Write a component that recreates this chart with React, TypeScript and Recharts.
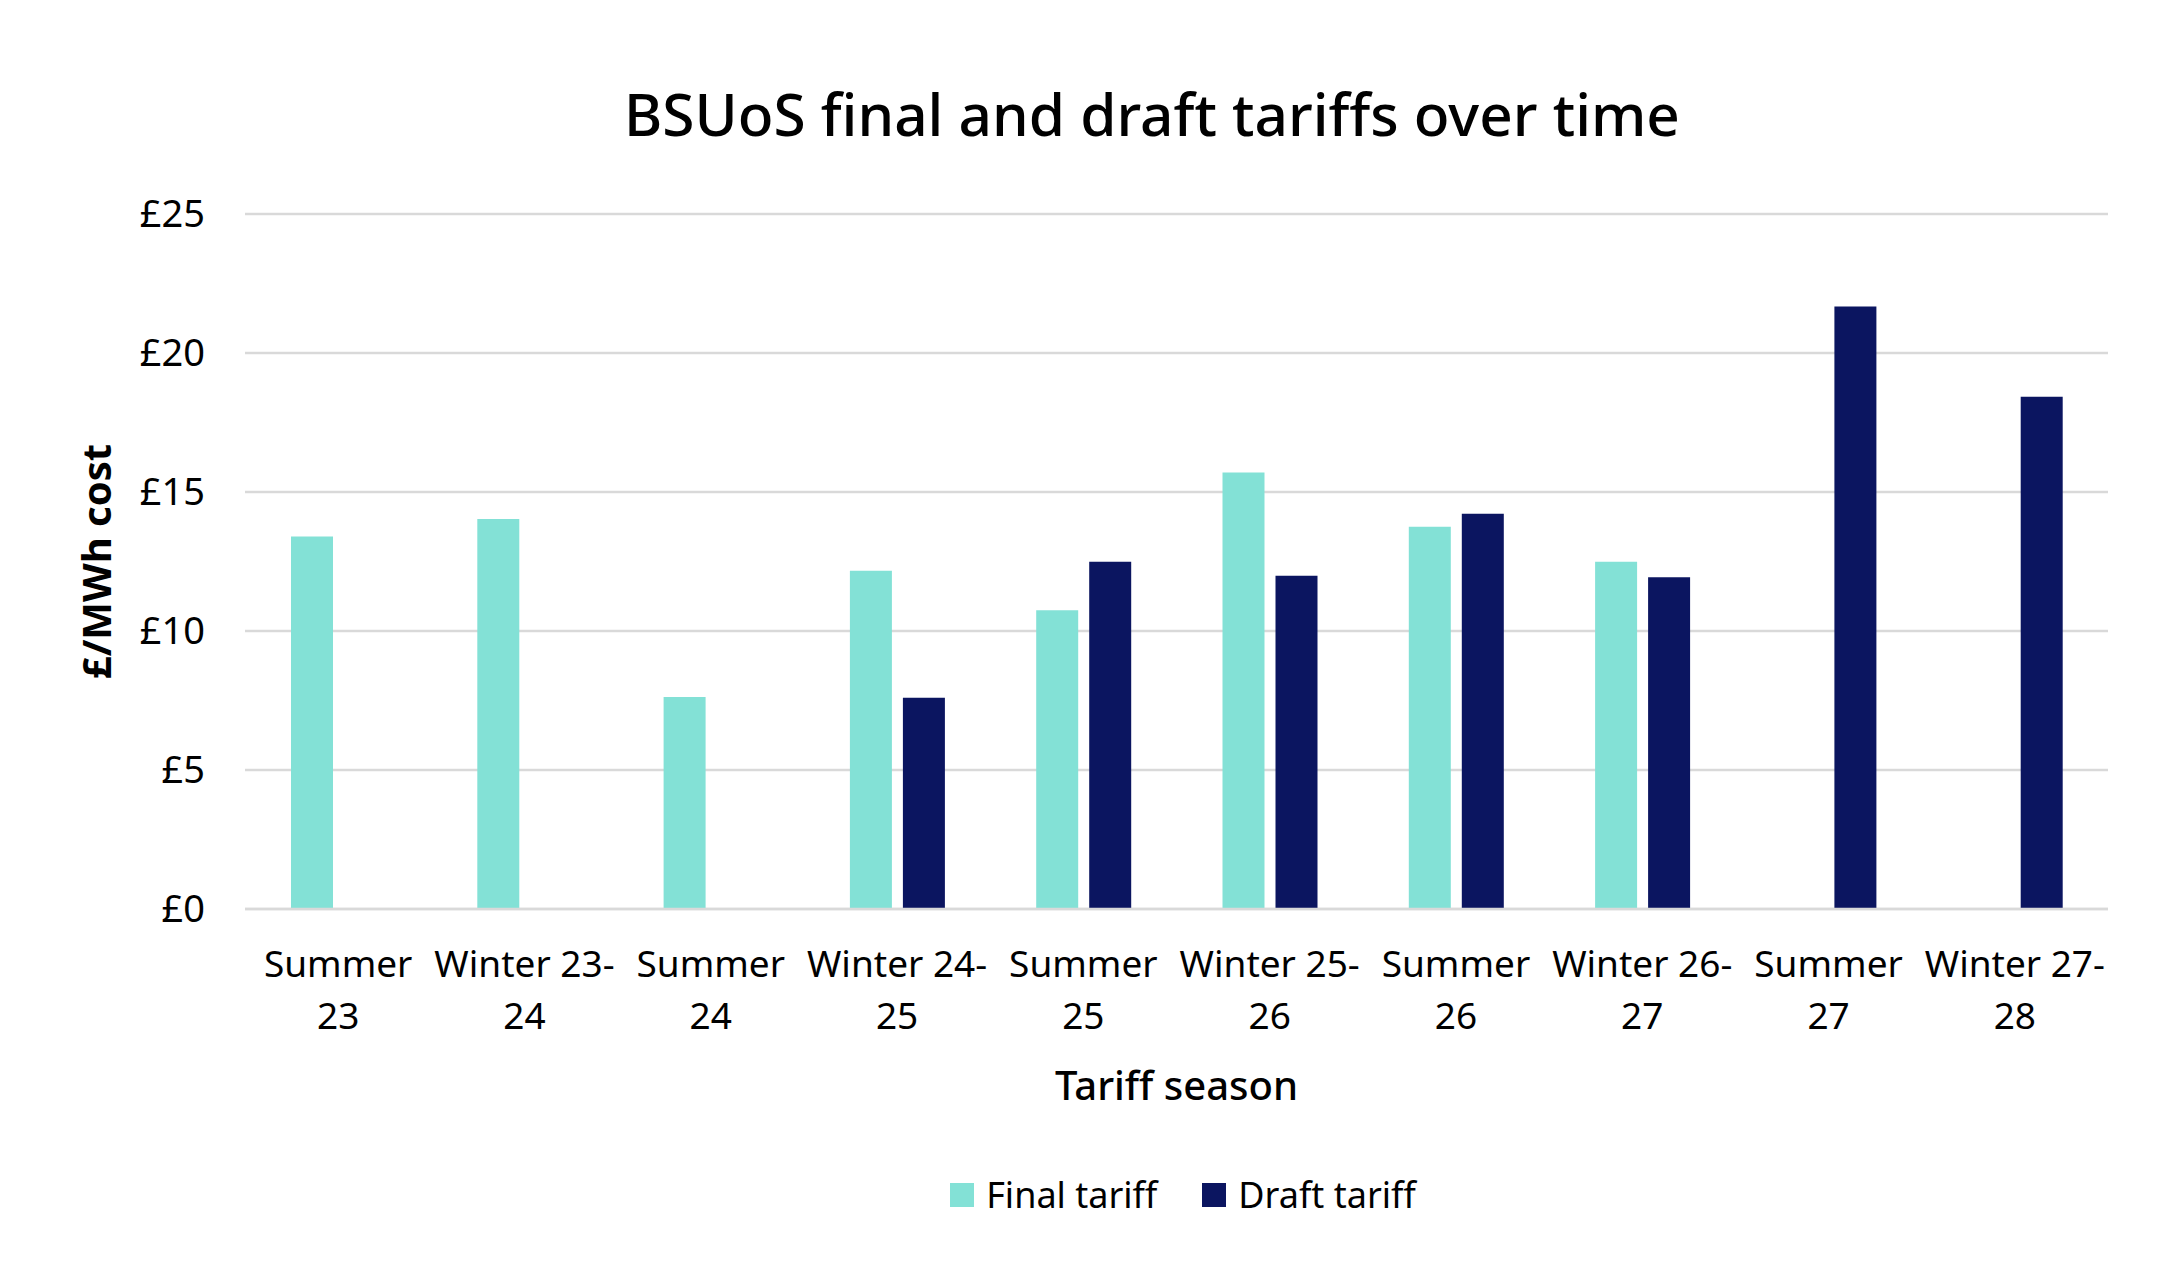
import { BarChart, Bar, XAxis, YAxis, CartesianGrid, Legend, Label } from 'recharts'

const SEASONS = [
  'Summer 23',
  'Winter 23-24',
  'Summer 24',
  'Winter 24-25',
  'Summer 25',
  'Winter 25-26',
  'Summer 26',
  'Winter 26-27',
  'Summer 27',
  'Winter 27-28',
]
const FINAL_TARIFF = [13.4, 14.03, 7.63, 12.17, 10.75, 15.7, 13.75, 12.49, null, null]
const DRAFT_TARIFF = [null, null, null, 7.6, 12.49, 11.99, 14.22, 11.93, 21.67, 18.43]
const Y_TICKS = [0, 5, 10, 15, 20, 25]
const SERIES_NAMES = ['Final tariff', 'Draft tariff']

const FONT = '"Noto Sans", sans-serif'
const TEAL = '#83E1D6'
const NAVY = '#0B1560'

const data = SEASONS.map((season, i) => ({
  season,
  final: FINAL_TARIFF[i],
  draft: DRAFT_TARIFF[i],
}))

// "Summer 23" -> ["Summer", "23"], "Winter 23-24" -> ["Winter 23-", "24"]
function splitSeason(label: string) {
  const m = label.match(/^(.*-)(\d+)$/)
  if (m) return [m[1], m[2]]
  const idx = label.lastIndexOf(' ')
  return [label.slice(0, idx), label.slice(idx + 1)]
}

function SeasonTick({ x, y, payload }: any) {
  const lines = splitSeason(payload.value)
  return (
    <g transform={`translate(${x},${y})`}>
      {lines.map((line, i) => (
        <text
          key={i}
          x={0}
          y={68 + i * 52}
          textAnchor="middle"
          fontFamily={FONT}
          fontSize={37}
          fill="#000"
        >
          {line}
        </text>
      ))}
    </g>
  )
}

function LegendContent({ payload }: any) {
  const items = [...(payload || [])].sort(
    (a: any, b: any) => SERIES_NAMES.indexOf(a.value) - SERIES_NAMES.indexOf(b.value)
  )
  return (
    <div style={{ display: 'flex', justifyContent: 'center', alignItems: 'center', height: 40, paddingLeft: 250 }}>
      {items.map((item: any, i: number) => (
        <div key={i} style={{ display: 'flex', alignItems: 'center', marginRight: i === 0 ? 45 : 0 }}>
          <div style={{ width: 24, height: 24, background: item.color, marginRight: 12 }} />
          <span style={{ fontFamily: FONT, fontSize: 36, color: '#000', lineHeight: '40px' }}>{item.value}</span>
        </div>
      ))}
    </div>
  )
}

export default function App() {
  return (
    <div style={{ position: 'relative', width: 2140, height: 1250, background: '#fff' }}>
      <div
        style={{
          position: 'absolute',
          top: 75,
          left: 544,
          width: 1200,
          textAlign: 'center',
          fontFamily: FONT,
          fontSize: 58.5,
          fontWeight: 500,
          lineHeight: '60px',
          color: '#000',
        }}
      >
        BSUoS final and draft tariffs over time
      </div>
      <BarChart
        width={2140}
        height={1250}
        data={data}
        margin={{ top: 206, right: 40, bottom: 43, left: 0 }}
        barSize={42}
        barGap={11}
        barCategoryGap={45}
      >
        <CartesianGrid vertical={false} stroke="#D9D9D9" strokeWidth={2.5} />
        <XAxis
          dataKey="season"
          tickLine={false}
          tickSize={0}
          tickMargin={0}
          axisLine={{ stroke: '#D9D9D9', strokeWidth: 2.5 }}
          tick={<SeasonTick />}
          interval={0}
          height={266}
        >
          <Label
            content={({ viewBox }: any) => (
              <text
                x={viewBox.x + viewBox.width / 2}
                y={1092}
                textAnchor="middle"
                fontFamily={FONT}
                fontSize={40}
                fontWeight={500}
                fill="#000"
              >
                Tariff season
              </text>
            )}
          />
        </XAxis>
        <YAxis
          domain={[0, 25]}
          ticks={Y_TICKS}
          tickFormatter={(v) => `£${v}`}
          tickLine={false}
          tickSize={0}
          tickMargin={40}
          axisLine={false}
          width={237}
          tick={{ fontFamily: FONT, fontSize: 38, fill: '#000' }}
        >
          <Label
            content={({ viewBox }: any) => {
              const cx = 103
              const cy = viewBox.y + viewBox.height / 2
              return (
                <text
                  x={cx}
                  y={cy}
                  transform={`rotate(-90, ${cx}, ${cy})`}
                  textAnchor="middle"
                  fontFamily={FONT}
                  fontSize={40}
                  fontWeight={700}
                  fill="#000"
                >
                  £/MWh cost
                </text>
              )
            }}
          />
        </YAxis>
        <Legend verticalAlign="bottom" content={<LegendContent />} />
        <Bar dataKey="final" name="Final tariff" fill={TEAL} isAnimationActive={false} />
        <Bar dataKey="draft" name="Draft tariff" fill={NAVY} isAnimationActive={false} />
      </BarChart>
    </div>
  )
}
